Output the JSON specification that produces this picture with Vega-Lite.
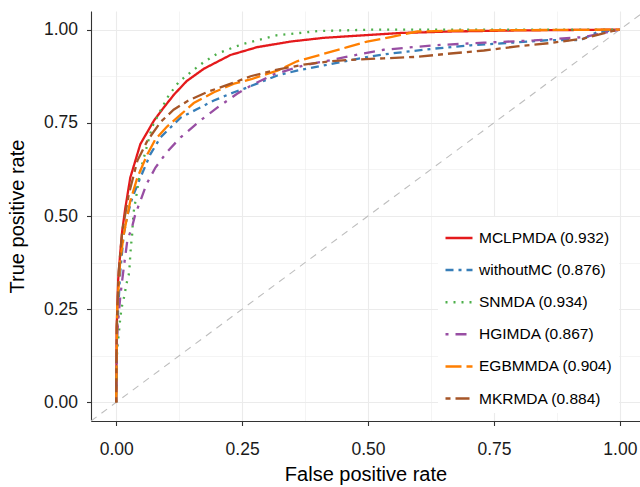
{
  "$schema": "https://vega.github.io/schema/vega-lite/v6.json",
  "width": 549,
  "height": 410,
  "autosize": {"type": "none"},
  "padding": {"left": 91, "top": 11, "right": 0, "bottom": 66},
  "background": "white",
  "config": {"view": {"stroke": null}, "font": "Liberation Sans"},
  "datasets": {
    "diag": [{"x": -0.05, "y": -0.05}, {"x": 1.05, "y": 1.05}],
    "curves": [
      {"m": "MCLPMDA (0.932)", "i": 0, "x": 0, "y": 0},
      {"m": "MCLPMDA (0.932)", "i": 1, "x": 0.001, "y": 0.2},
      {"m": "MCLPMDA (0.932)", "i": 2, "x": 0.004, "y": 0.33},
      {"m": "MCLPMDA (0.932)", "i": 3, "x": 0.008, "y": 0.40},
      {"m": "MCLPMDA (0.932)", "i": 4, "x": 0.012, "y": 0.46},
      {"m": "MCLPMDA (0.932)", "i": 5, "x": 0.018, "y": 0.52},
      {"m": "MCLPMDA (0.932)", "i": 6, "x": 0.028, "y": 0.603},
      {"m": "MCLPMDA (0.932)", "i": 7, "x": 0.048, "y": 0.693},
      {"m": "MCLPMDA (0.932)", "i": 8, "x": 0.075, "y": 0.756},
      {"m": "MCLPMDA (0.932)", "i": 9, "x": 0.095, "y": 0.792},
      {"m": "MCLPMDA (0.932)", "i": 10, "x": 0.115, "y": 0.826},
      {"m": "MCLPMDA (0.932)", "i": 11, "x": 0.140, "y": 0.862},
      {"m": "MCLPMDA (0.932)", "i": 12, "x": 0.174, "y": 0.895},
      {"m": "MCLPMDA (0.932)", "i": 13, "x": 0.227, "y": 0.932},
      {"m": "MCLPMDA (0.932)", "i": 14, "x": 0.28, "y": 0.953},
      {"m": "MCLPMDA (0.932)", "i": 15, "x": 0.346, "y": 0.968},
      {"m": "MCLPMDA (0.932)", "i": 16, "x": 0.412, "y": 0.978},
      {"m": "MCLPMDA (0.932)", "i": 17, "x": 0.505, "y": 0.986},
      {"m": "MCLPMDA (0.932)", "i": 18, "x": 0.565, "y": 0.991},
      {"m": "MCLPMDA (0.932)", "i": 19, "x": 0.664, "y": 0.995},
      {"m": "MCLPMDA (0.932)", "i": 20, "x": 0.8, "y": 0.998},
      {"m": "MCLPMDA (0.932)", "i": 21, "x": 0.9, "y": 0.999},
      {"m": "MCLPMDA (0.932)", "i": 22, "x": 1, "y": 1},

      {"m": "withoutMC (0.876)", "i": 0, "x": 0, "y": 0},
      {"m": "withoutMC (0.876)", "i": 1, "x": 0.002, "y": 0.2},
      {"m": "withoutMC (0.876)", "i": 2, "x": 0.008, "y": 0.35},
      {"m": "withoutMC (0.876)", "i": 3, "x": 0.015, "y": 0.45},
      {"m": "withoutMC (0.876)", "i": 4, "x": 0.022, "y": 0.50},
      {"m": "withoutMC (0.876)", "i": 5, "x": 0.032, "y": 0.549},
      {"m": "withoutMC (0.876)", "i": 6, "x": 0.048, "y": 0.603},
      {"m": "withoutMC (0.876)", "i": 7, "x": 0.068, "y": 0.666},
      {"m": "withoutMC (0.876)", "i": 8, "x": 0.088, "y": 0.711},
      {"m": "withoutMC (0.876)", "i": 9, "x": 0.128, "y": 0.764},
      {"m": "withoutMC (0.876)", "i": 10, "x": 0.161, "y": 0.787},
      {"m": "withoutMC (0.876)", "i": 11, "x": 0.194, "y": 0.810},
      {"m": "withoutMC (0.876)", "i": 12, "x": 0.234, "y": 0.832},
      {"m": "withoutMC (0.876)", "i": 13, "x": 0.253, "y": 0.841},
      {"m": "withoutMC (0.876)", "i": 14, "x": 0.32, "y": 0.877},
      {"m": "withoutMC (0.876)", "i": 15, "x": 0.359, "y": 0.890},
      {"m": "withoutMC (0.876)", "i": 16, "x": 0.412, "y": 0.904},
      {"m": "withoutMC (0.876)", "i": 17, "x": 0.465, "y": 0.918},
      {"m": "withoutMC (0.876)", "i": 18, "x": 0.505, "y": 0.928},
      {"m": "withoutMC (0.876)", "i": 19, "x": 0.545, "y": 0.936},
      {"m": "withoutMC (0.876)", "i": 20, "x": 0.631, "y": 0.949},
      {"m": "withoutMC (0.876)", "i": 21, "x": 0.704, "y": 0.958},
      {"m": "withoutMC (0.876)", "i": 22, "x": 0.796, "y": 0.966},
      {"m": "withoutMC (0.876)", "i": 23, "x": 0.862, "y": 0.972},
      {"m": "withoutMC (0.876)", "i": 24, "x": 0.922, "y": 0.972},
      {"m": "withoutMC (0.876)", "i": 25, "x": 0.955, "y": 0.993},
      {"m": "withoutMC (0.876)", "i": 26, "x": 1, "y": 1},

      {"m": "SNMDA (0.934)", "i": 0, "x": 0, "y": 0},
      {"m": "SNMDA (0.934)", "i": 1, "x": 0.001, "y": 0.1},
      {"m": "SNMDA (0.934)", "i": 2, "x": 0.002, "y": 0.145},
      {"m": "SNMDA (0.934)", "i": 3, "x": 0.005, "y": 0.182},
      {"m": "SNMDA (0.934)", "i": 4, "x": 0.0085, "y": 0.231},
      {"m": "SNMDA (0.934)", "i": 5, "x": 0.012, "y": 0.262},
      {"m": "SNMDA (0.934)", "i": 6, "x": 0.0165, "y": 0.287},
      {"m": "SNMDA (0.934)", "i": 7, "x": 0.020, "y": 0.316},
      {"m": "SNMDA (0.934)", "i": 8, "x": 0.025, "y": 0.343},
      {"m": "SNMDA (0.934)", "i": 9, "x": 0.027, "y": 0.370},
      {"m": "SNMDA (0.934)", "i": 10, "x": 0.028, "y": 0.397},
      {"m": "SNMDA (0.934)", "i": 11, "x": 0.030, "y": 0.428},
      {"m": "SNMDA (0.934)", "i": 12, "x": 0.032, "y": 0.455},
      {"m": "SNMDA (0.934)", "i": 13, "x": 0.033, "y": 0.482},
      {"m": "SNMDA (0.934)", "i": 14, "x": 0.035, "y": 0.513},
      {"m": "SNMDA (0.934)", "i": 15, "x": 0.048, "y": 0.621},
      {"m": "SNMDA (0.934)", "i": 16, "x": 0.071, "y": 0.738},
      {"m": "SNMDA (0.934)", "i": 17, "x": 0.088, "y": 0.783},
      {"m": "SNMDA (0.934)", "i": 18, "x": 0.104, "y": 0.823},
      {"m": "SNMDA (0.934)", "i": 19, "x": 0.124, "y": 0.859},
      {"m": "SNMDA (0.934)", "i": 20, "x": 0.148, "y": 0.886},
      {"m": "SNMDA (0.934)", "i": 21, "x": 0.174, "y": 0.913},
      {"m": "SNMDA (0.934)", "i": 22, "x": 0.2, "y": 0.935},
      {"m": "SNMDA (0.934)", "i": 23, "x": 0.234, "y": 0.953},
      {"m": "SNMDA (0.934)", "i": 24, "x": 0.253, "y": 0.962},
      {"m": "SNMDA (0.934)", "i": 25, "x": 0.32, "y": 0.985},
      {"m": "SNMDA (0.934)", "i": 26, "x": 0.4, "y": 0.996},
      {"m": "SNMDA (0.934)", "i": 27, "x": 0.505, "y": 1.0},
      {"m": "SNMDA (0.934)", "i": 28, "x": 1, "y": 1},

      {"m": "HGIMDA (0.867)", "i": 0, "x": 0, "y": 0},
      {"m": "HGIMDA (0.867)", "i": 1, "x": 0.001, "y": 0.1},
      {"m": "HGIMDA (0.867)", "i": 2, "x": 0.002, "y": 0.182},
      {"m": "HGIMDA (0.867)", "i": 3, "x": 0.005, "y": 0.235},
      {"m": "HGIMDA (0.867)", "i": 4, "x": 0.0085, "y": 0.289},
      {"m": "HGIMDA (0.867)", "i": 5, "x": 0.015, "y": 0.361},
      {"m": "HGIMDA (0.867)", "i": 6, "x": 0.022, "y": 0.433},
      {"m": "HGIMDA (0.867)", "i": 7, "x": 0.032, "y": 0.473},
      {"m": "HGIMDA (0.867)", "i": 8, "x": 0.038, "y": 0.505},
      {"m": "HGIMDA (0.867)", "i": 9, "x": 0.048, "y": 0.540},
      {"m": "HGIMDA (0.867)", "i": 10, "x": 0.060, "y": 0.585},
      {"m": "HGIMDA (0.867)", "i": 11, "x": 0.078, "y": 0.630},
      {"m": "HGIMDA (0.867)", "i": 12, "x": 0.101, "y": 0.672},
      {"m": "HGIMDA (0.867)", "i": 13, "x": 0.128, "y": 0.711},
      {"m": "HGIMDA (0.867)", "i": 14, "x": 0.167, "y": 0.756},
      {"m": "HGIMDA (0.867)", "i": 15, "x": 0.2, "y": 0.790},
      {"m": "HGIMDA (0.867)", "i": 16, "x": 0.24, "y": 0.828},
      {"m": "HGIMDA (0.867)", "i": 17, "x": 0.27, "y": 0.852},
      {"m": "HGIMDA (0.867)", "i": 18, "x": 0.313, "y": 0.880},
      {"m": "HGIMDA (0.867)", "i": 19, "x": 0.372, "y": 0.904},
      {"m": "HGIMDA (0.867)", "i": 20, "x": 0.425, "y": 0.918},
      {"m": "HGIMDA (0.867)", "i": 21, "x": 0.479, "y": 0.933},
      {"m": "HGIMDA (0.867)", "i": 22, "x": 0.531, "y": 0.946},
      {"m": "HGIMDA (0.867)", "i": 23, "x": 0.631, "y": 0.958},
      {"m": "HGIMDA (0.867)", "i": 24, "x": 0.730, "y": 0.965},
      {"m": "HGIMDA (0.867)", "i": 25, "x": 0.829, "y": 0.971},
      {"m": "HGIMDA (0.867)", "i": 26, "x": 0.928, "y": 0.980},
      {"m": "HGIMDA (0.867)", "i": 27, "x": 1, "y": 1},

      {"m": "EGBMMDA (0.904)", "i": 0, "x": 0, "y": 0},
      {"m": "EGBMMDA (0.904)", "i": 1, "x": 0.002, "y": 0.25},
      {"m": "EGBMMDA (0.904)", "i": 2, "x": 0.008, "y": 0.38},
      {"m": "EGBMMDA (0.904)", "i": 3, "x": 0.015, "y": 0.45},
      {"m": "EGBMMDA (0.904)", "i": 4, "x": 0.022, "y": 0.50},
      {"m": "EGBMMDA (0.904)", "i": 5, "x": 0.028, "y": 0.54},
      {"m": "EGBMMDA (0.904)", "i": 6, "x": 0.042, "y": 0.603},
      {"m": "EGBMMDA (0.904)", "i": 7, "x": 0.062, "y": 0.666},
      {"m": "EGBMMDA (0.904)", "i": 8, "x": 0.078, "y": 0.706},
      {"m": "EGBMMDA (0.904)", "i": 9, "x": 0.101, "y": 0.740},
      {"m": "EGBMMDA (0.904)", "i": 10, "x": 0.128, "y": 0.772},
      {"m": "EGBMMDA (0.904)", "i": 11, "x": 0.154, "y": 0.803},
      {"m": "EGBMMDA (0.904)", "i": 12, "x": 0.194, "y": 0.832},
      {"m": "EGBMMDA (0.904)", "i": 13, "x": 0.234, "y": 0.855},
      {"m": "EGBMMDA (0.904)", "i": 14, "x": 0.27, "y": 0.868},
      {"m": "EGBMMDA (0.904)", "i": 15, "x": 0.32, "y": 0.890},
      {"m": "EGBMMDA (0.904)", "i": 16, "x": 0.359, "y": 0.915},
      {"m": "EGBMMDA (0.904)", "i": 17, "x": 0.412, "y": 0.935},
      {"m": "EGBMMDA (0.904)", "i": 18, "x": 0.459, "y": 0.953},
      {"m": "EGBMMDA (0.904)", "i": 19, "x": 0.498, "y": 0.968},
      {"m": "EGBMMDA (0.904)", "i": 20, "x": 0.545, "y": 0.980},
      {"m": "EGBMMDA (0.904)", "i": 21, "x": 0.598, "y": 0.995},
      {"m": "EGBMMDA (0.904)", "i": 22, "x": 0.7, "y": 0.998},
      {"m": "EGBMMDA (0.904)", "i": 23, "x": 0.85, "y": 0.999},
      {"m": "EGBMMDA (0.904)", "i": 24, "x": 1, "y": 1},

      {"m": "MKRMDA (0.884)", "i": 0, "x": 0, "y": 0},
      {"m": "MKRMDA (0.884)", "i": 1, "x": 0.001, "y": 0.2},
      {"m": "MKRMDA (0.884)", "i": 2, "x": 0.005, "y": 0.35},
      {"m": "MKRMDA (0.884)", "i": 3, "x": 0.012, "y": 0.46},
      {"m": "MKRMDA (0.884)", "i": 4, "x": 0.02, "y": 0.52},
      {"m": "MKRMDA (0.884)", "i": 5, "x": 0.025, "y": 0.558},
      {"m": "MKRMDA (0.884)", "i": 6, "x": 0.042, "y": 0.648},
      {"m": "MKRMDA (0.884)", "i": 7, "x": 0.062, "y": 0.702},
      {"m": "MKRMDA (0.884)", "i": 8, "x": 0.088, "y": 0.752},
      {"m": "MKRMDA (0.884)", "i": 9, "x": 0.114, "y": 0.785},
      {"m": "MKRMDA (0.884)", "i": 10, "x": 0.141, "y": 0.808},
      {"m": "MKRMDA (0.884)", "i": 11, "x": 0.181, "y": 0.833},
      {"m": "MKRMDA (0.884)", "i": 12, "x": 0.234, "y": 0.858},
      {"m": "MKRMDA (0.884)", "i": 13, "x": 0.267, "y": 0.875},
      {"m": "MKRMDA (0.884)", "i": 14, "x": 0.32, "y": 0.893},
      {"m": "MKRMDA (0.884)", "i": 15, "x": 0.372, "y": 0.906},
      {"m": "MKRMDA (0.884)", "i": 16, "x": 0.425, "y": 0.915},
      {"m": "MKRMDA (0.884)", "i": 17, "x": 0.479, "y": 0.920},
      {"m": "MKRMDA (0.884)", "i": 18, "x": 0.531, "y": 0.923},
      {"m": "MKRMDA (0.884)", "i": 19, "x": 0.598, "y": 0.927},
      {"m": "MKRMDA (0.884)", "i": 20, "x": 0.664, "y": 0.936},
      {"m": "MKRMDA (0.884)", "i": 21, "x": 0.730, "y": 0.944},
      {"m": "MKRMDA (0.884)", "i": 22, "x": 0.796, "y": 0.955},
      {"m": "MKRMDA (0.884)", "i": 23, "x": 0.862, "y": 0.964},
      {"m": "MKRMDA (0.884)", "i": 24, "x": 0.928, "y": 0.976},
      {"m": "MKRMDA (0.884)", "i": 25, "x": 0.988, "y": 0.997},
      {"m": "MKRMDA (0.884)", "i": 26, "x": 1, "y": 1}
    ]
  },
  "encoding": {
    "x": {
      "field": "x", "type": "quantitative",
      "scale": {"domain": [-0.05, 1.04], "nice": false, "zero": false},
      "axis": {
        "title": "False positive rate",
        "values": [0, 0.125, 0.25, 0.375, 0.5, 0.625, 0.75, 0.875, 1],
        "labelExpr": "datum.value % 0.25 === 0 ? format(datum.value, '.2f') : ''",
        "grid": true, "gridColor": "#EBEBEB",
        "gridWidth": {"condition": {"test": "datum.value % 0.25 === 0", "value": 1.1}, "value": 0.55},
        "tickSize": {"condition": {"test": "datum.value % 0.25 === 0", "value": 4.5}, "value": 0},
        "tickColor": "#333333", "tickWidth": 1.1,
        "domainColor": "#333333", "domainWidth": 1.1,
        "labelFontSize": 17.5, "labelColor": "#1a1a1a", "labelPadding": 15, "labelFlush": false,
        "titleFontSize": 20, "titleFontWeight": "normal", "titleColor": "#000000", "titlePadding": 6
      }
    },
    "y": {
      "field": "y", "type": "quantitative",
      "scale": {"domain": [-0.05, 1.05], "nice": false, "zero": false},
      "axis": {
        "title": "True positive rate",
        "values": [0, 0.125, 0.25, 0.375, 0.5, 0.625, 0.75, 0.875, 1],
        "labelExpr": "datum.value % 0.25 === 0 ? format(datum.value, '.2f') : ''",
        "grid": true, "gridColor": "#EBEBEB",
        "gridWidth": {"condition": {"test": "datum.value % 0.25 === 0", "value": 1.1}, "value": 0.55},
        "tickSize": {"condition": {"test": "datum.value % 0.25 === 0", "value": 4.5}, "value": 0},
        "tickColor": "#333333", "tickWidth": 1.1,
        "domainColor": "#333333", "domainWidth": 1.1,
        "labelFontSize": 17.5, "labelColor": "#1a1a1a", "labelPadding": 9, "labelFlush": false,
        "titleFontSize": 20, "titleFontWeight": "normal", "titleColor": "#000000", "titlePadding": 16
      }
    }
  },
  "layer": [
    {
      "data": {"name": "diag"},
      "mark": {"type": "line", "color": "#BEBEBE", "strokeWidth": 1.1, "strokeDash": [7, 6], "clip": true},
      "encoding": {}
    },
    {
      "data": {"name": "curves"},
      "mark": {"type": "line", "strokeWidth": 2.3},
      "encoding": {
        "order": {"field": "i", "type": "quantitative"},
        "color": {
          "field": "m", "type": "nominal",
          "scale": {
            "domain": ["MCLPMDA (0.932)", "withoutMC (0.876)", "SNMDA (0.934)", "HGIMDA (0.867)", "EGBMMDA (0.904)", "MKRMDA (0.884)"],
            "range": ["#E41A1C", "#377EB8", "#4DAF4A", "#984EA3", "#FF7F00", "#A65628"]
          },
          "legend": {"orient": "none", "legendX": 347, "legendY": 206, "title": null, "symbolType": "stroke", "symbolSize": 729, "symbolStrokeWidth": 2.5, "labelFontSize": 15.5, "labelColor": "#000000", "rowPadding": 8.1, "padding": 6, "fillColor": "white", "labelOffset": 5, "labelLimit": 300}
        },
        "strokeDash": {
          "field": "m", "type": "nominal",
          "scale": {
            "domain": ["MCLPMDA (0.932)", "withoutMC (0.876)", "SNMDA (0.934)", "HGIMDA (0.867)", "EGBMMDA (0.904)", "MKRMDA (0.884)"],
            "range": [[1, 0], [8, 5, 3, 5], [2, 6], [3, 7, 11, 7], [16, 5], [5, 5, 14, 5]]
          },
          "legend": {"orient": "none", "legendX": 347, "legendY": 206, "title": null, "symbolType": "stroke", "symbolSize": 729, "symbolStrokeWidth": 2.5, "labelFontSize": 15.5, "labelColor": "#000000", "rowPadding": 8.1, "padding": 6, "fillColor": "white", "labelOffset": 5, "labelLimit": 300}
        }
      }
    },
    {
      "data": {"values": [{}]},
      "mark": {"type": "rule", "color": "#333333", "strokeWidth": 1.1},
      "encoding": {"y": {"datum": 1.05}}
    }
  ]
}
